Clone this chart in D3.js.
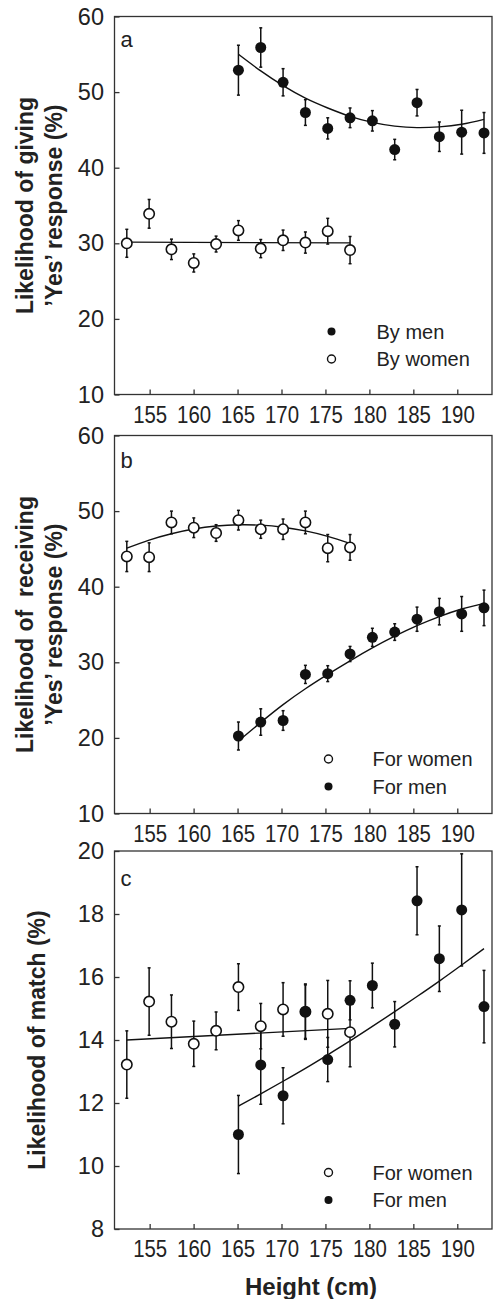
<!DOCTYPE html>
<html>
<head>
<meta charset="utf-8">
<script src="https://cdn.jsdelivr.net/npm/d3@7"></script>
<style>
  body { margin: 0; background: #fff; }
  svg { display: block; font-family: "Liberation Sans", Arial, Helvetica, sans-serif; }
</style>
</head>
<body>
<script>
// heights are 1-inch bins, shown in cm
const heightsWomen = [152.4, 154.94, 157.48, 160.02, 162.56, 165.1, 167.64, 170.18, 172.72, 175.26, 177.8];
const heightsMen = [165.1, 167.64, 170.18, 172.72, 175.26, 177.8, 180.34, 182.88, 185.42, 187.96, 190.5, 193.04];
const xTicks = [155, 160, 165, 170, 175, 180, 185, 190];

// panel a: giving a 'Yes'
const givingMen = [52.9, 55.9, 51.3, 47.3, 45.2, 46.6, 46.2, 42.4, 48.6, 44.1, 44.7, 44.6];
const givingMenErr = [3.3, 2.6, 1.8, 1.7, 1.4, 1.3, 1.35, 1.35, 1.75, 1.95, 2.9, 2.7];
const givingMenFit = [55.0, 52.8, 50.85, 49.2, 47.9, 46.8, 46.0, 45.5, 45.3, 45.4, 45.75, 46.4];
const givingWomen = [30.0, 33.9, 29.2, 27.4, 29.9, 31.7, 29.3, 30.4, 30.1, 31.6, 29.1];
const givingWomenErr = [1.85, 1.9, 1.35, 1.2, 1.05, 1.3, 1.2, 1.35, 1.4, 1.7, 1.8];
const givingWomenFitX = [152.4, 177.8];
const givingWomenFit = [30.15, 30.05];

// panel b: receiving a 'Yes'
const receivingWomen = [44.0, 43.9, 48.5, 47.8, 47.1, 48.8, 47.6, 47.6, 48.5, 45.1, 45.2];
const receivingWomenErr = [2.0, 1.9, 1.5, 1.3, 1.1, 1.3, 1.2, 1.35, 1.5, 1.8, 1.7];
const receivingWomenFit = [45.1, 46.17, 47.01, 47.63, 48.02, 48.19, 48.14, 47.87, 47.38, 46.66, 45.72];
const receivingMen = [20.25, 22.1, 22.3, 28.4, 28.5, 31.1, 33.3, 34.0, 35.7, 36.7, 36.4, 37.2];
const receivingMenErr = [1.85, 1.75, 1.3, 1.2, 1.05, 1.0, 1.2, 1.1, 1.6, 1.75, 2.3, 2.35];
const receivingMenFit = [19.6, 22.05, 24.4, 26.5, 28.4, 30.2, 31.9, 33.45, 34.85, 36.05, 37.05, 37.8];

// panel c: match
const matchWomen = [13.22, 15.22, 14.58, 13.88, 14.29, 15.68, 14.44, 14.97, 14.9, 14.83, 14.25];
const matchWomenErr = [1.07, 1.07, 0.85, 0.72, 0.6, 0.74, 0.72, 0.85, 0.85, 1.06, 1.1];
const matchWomenFitX = [152.4, 177.8];
const matchWomenFit = [14.0, 14.37];
const matchMen = [11.0, 13.21, 12.23, 14.9, 13.38, 15.26, 15.73, 14.5, 18.42, 16.58, 18.13, 15.06];
const matchMenErr = [1.24, 1.25, 0.89, 0.88, 0.7, 0.62, 0.71, 0.72, 1.08, 1.04, 1.78, 1.15];
const matchMenFit = [11.9, 12.29, 12.69, 13.1, 13.53, 13.97, 14.43, 14.9, 15.38, 15.87, 16.38, 16.9];

const yTicksPct = [10, 20, 30, 40, 50, 60];
const yTicksMatch = [8, 10, 12, 14, 16, 18, 20];

const W = 493, H = 1299;
const left = 114.5, right = 492, panelH = 378;
const ink = "#111";
const fontFam = "'Liberation Sans', Arial, Helvetica, sans-serif";

const svg = d3.select("body").append("svg")
  .attr("width", W)
  .attr("height", H);

const x = d3.scaleLinear()
  .domain([151, 193.95])
  .range([left, right]);

const panels = [
  {
    letter: "a", top: 16.5, domain: [10, 60], ticks: yTicksPct, letterY: 30.5,
    title: ["Likelihood of giving", "\u2019Yes\u2019 response (%)"],
    legend: [{ label: "By men", filled: true, y: 315 }, { label: "By women", filled: false, y: 342.5 }],
    legendX: 331.5, legendTextX: 376.5,
    women: { v: givingWomen, e: givingWomenErr, fx: givingWomenFitX, f: givingWomenFit },
    men: { v: givingMen, e: givingMenErr, fx: heightsMen, f: givingMenFit }
  },
  {
    letter: "b", top: 435.5, domain: [10, 60], ticks: yTicksPct, letterY: 32.5,
    title: ["Likelihood of  receiving", "\u2019Yes\u2019 response (%)"],
    legend: [{ label: "For women", filled: false, y: 323.5 }, { label: "For men", filled: true, y: 351 }],
    legendX: 328.5, legendTextX: 372.5,
    women: { v: receivingWomen, e: receivingWomenErr, fx: heightsWomen, f: receivingWomenFit },
    men: { v: receivingMen, e: receivingMenErr, fx: heightsMen, f: receivingMenFit }
  },
  {
    letter: "c", top: 851, domain: [8, 20], ticks: yTicksMatch, letterY: 35,
    title: ["Likelihood of match (%)"],
    legend: [{ label: "For women", filled: false, y: 321.5 }, { label: "For men", filled: true, y: 349 }],
    legendX: 328.5, legendTextX: 372.5,
    women: { v: matchWomen, e: matchWomenErr, fx: matchWomenFitX, f: matchWomenFit },
    men: { v: matchMen, e: matchMenErr, fx: heightsMen, f: matchMenFit }
  }
];

panels.forEach(p => {
  const y = d3.scaleLinear()
    .domain(p.domain)
    .range([p.top + panelH, p.top]);

  const g = svg.append("g");

  // frame
  g.append("rect")
    .attr("x", left)
    .attr("y", p.top)
    .attr("width", right - left)
    .attr("height", panelH)
    .attr("fill", "none")
    .attr("stroke", "#333")
    .attr("stroke-width", 1.3);

  // axes with inward ticks, labels a bit condensed like the original
  const xAxis = g.append("g")
    .attr("transform", `translate(0,${p.top + panelH})`)
    .call(d3.axisBottom(x).tickValues(xTicks).tickSizeInner(-5).tickSizeOuter(0).tickPadding(11.8))
    .attr("font-size", 23.5)
    .attr("font-family", fontFam);
  xAxis.select(".domain").remove();
  xAxis.selectAll("line").attr("stroke", "#333").attr("stroke-width", 1.3);
  xAxis.selectAll("text")
    .attr("fill", "#222")
    .attr("textLength", 34)
    .attr("lengthAdjust", "spacingAndGlyphs");

  const yAxis = g.append("g")
    .attr("transform", `translate(${left},0)`)
    .call(d3.axisLeft(y).tickValues(p.ticks).tickSizeInner(-5).tickSizeOuter(0).tickPadding(10.5))
    .attr("font-size", 23.5)
    .attr("font-family", fontFam);
  yAxis.select(".domain").remove();
  yAxis.selectAll("line").attr("stroke", "#333").attr("stroke-width", 1.3);
  yAxis.selectAll("text").attr("fill", "#222");

  // y title
  const cy = p.top + panelH / 2;
  const baseX = p.title.length === 2 ? [33, 62] : [45];
  p.title.forEach((t, i) => {
    g.append("text")
      .attr("transform", `translate(${baseX[i]},${cy}) rotate(-90)`)
      .attr("text-anchor", "middle")
      .attr("font-weight", "bold")
      .style("font-size", "23px")
      .style("white-space", "pre")
      .attr("fill", "#222")
      .text(t);
  });

  // panel letter
  g.append("text")
    .attr("x", 120.5)
    .attr("y", p.top + p.letterY)
    .style("font-size", "22px")
    .attr("fill", "#222")
    .text(p.letter);

  const line = d3.line()
    .x(d => x(d[0]))
    .y(d => y(d[1]))
    .curve(d3.curveNatural);

  // fitted lines
  [p.women, p.men].forEach(s => {
    g.append("path")
      .datum(s.fx.map((h, i) => [h, s.f[i]]))
      .attr("d", line)
      .attr("fill", "none")
      .attr("stroke", ink)
      .attr("stroke-width", 1.4);
  });

  const women = heightsWomen.map((h, i) => ({ h, v: p.women.v[i], e: p.women.e[i] }));
  const men = heightsMen.map((h, i) => ({ h, v: p.men.v[i], e: p.men.e[i] }));

  // error bars
  const bars = g.append("g")
    .attr("stroke", ink)
    .attr("stroke-width", 1.5);
  bars.selectAll("line.eb")
    .data(women.concat(men))
    .join("line")
      .attr("class", "eb")
      .attr("x1", d => x(d.h))
      .attr("x2", d => x(d.h))
      .attr("y1", d => y(d.v + d.e))
      .attr("y2", d => y(d.v - d.e));
  bars.selectAll("line.cap")
    .data(women.concat(men).flatMap(d => [d.v + d.e, d.v - d.e].map(v => ({ h: d.h, v }))))
    .join("line")
      .attr("class", "cap")
      .attr("x1", d => x(d.h) - 1.5)
      .attr("x2", d => x(d.h) + 1.5)
      .attr("y1", d => y(d.v))
      .attr("y2", d => y(d.v));

  // women: open circles
  g.append("g").selectAll("circle")
    .data(women)
    .join("circle")
      .attr("cx", d => x(d.h))
      .attr("cy", d => y(d.v))
      .attr("r", 5.2)
      .attr("fill", "#fff")
      .attr("stroke", ink)
      .attr("stroke-width", 1.6);

  // men: filled circles
  g.append("g").selectAll("circle")
    .data(men)
    .join("circle")
      .attr("cx", d => x(d.h))
      .attr("cy", d => y(d.v))
      .attr("r", 5.5)
      .attr("fill", ink);

  // legend
  const leg = g.append("g");
  p.legend.forEach(l => {
    leg.append("circle")
      .attr("cx", p.legendX)
      .attr("cy", p.top + l.y)
      .attr("r", 4)
      .attr("fill", l.filled ? ink : "#fff")
      .attr("stroke", ink)
      .attr("stroke-width", l.filled ? 0 : 1.4);
    leg.append("text")
      .attr("x", p.legendTextX)
      .attr("y", p.top + l.y)
      .attr("dy", "0.35em")
      .style("font-size", "20px")
      .attr("fill", "#222")
      .text(l.label);
  });
});

// x title
svg.append("text")
  .attr("x", 311)
  .attr("y", 1295)
  .attr("text-anchor", "middle")
  .attr("font-weight", "bold")
  .style("font-size", "24px")
  .attr("fill", "#222")
  .text("Height (cm)");
</script>
</body>
</html>
